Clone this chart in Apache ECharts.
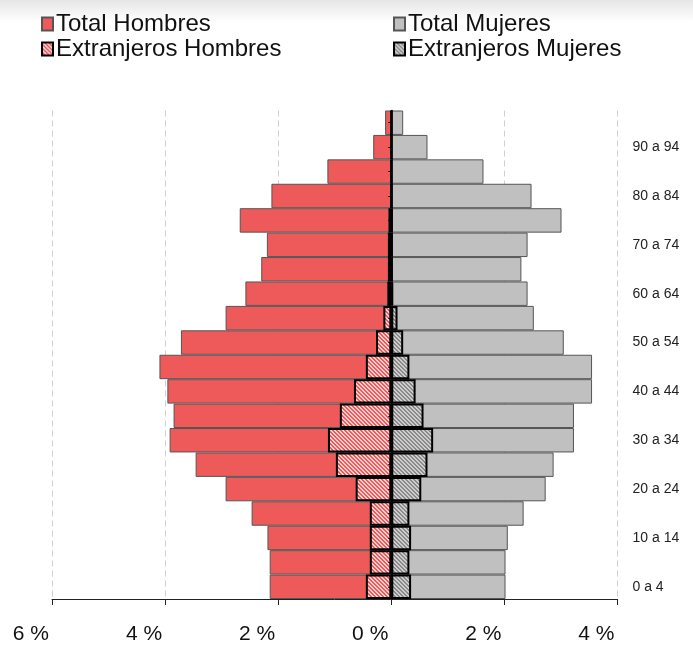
<!DOCTYPE html>
<html>
<head>
<meta charset="utf-8">
<script src="https://cdn.jsdelivr.net/npm/echarts@6/dist/echarts.min.js"></script>
<style>html,body{margin:0;padding:0;background:#fff;}#c{width:693px;height:645px;}</style>
</head>
<body>
<div id="c"></div>
<script>
const categories = ['0 a 4','5 a 9','10 a 14','15 a 19','20 a 24','25 a 29','30 a 34','35 a 39','40 a 44','45 a 49','50 a 54','55 a 59','60 a 64','65 a 69','70 a 74','75 a 79','80 a 84','85 a 89','90 a 94','95 y más'];
const totalHombres = [2.15, 2.15, 2.19, 2.47, 2.93, 3.46, 3.92, 3.85, 3.96, 4.10, 3.72, 2.93, 2.58, 2.30, 2.20, 2.68, 2.12, 1.13, 0.32, 0.11];
const totalMujeres = [2.02, 2.02, 2.06, 2.34, 2.73, 2.87, 3.23, 3.23, 3.55, 3.55, 3.05, 2.52, 2.41, 2.30, 2.41, 3.01, 2.48, 1.63, 0.64, 0.21];
const extHombres = [0.45, 0.38, 0.38, 0.38, 0.63, 0.98, 1.12, 0.91, 0.66, 0.45, 0.27, 0.14, 0.07, 0.06, 0.06, 0.05, 0.01, 0.01, 0, 0];
const extMujeres = [0.35, 0.32, 0.35, 0.32, 0.53, 0.64, 0.74, 0.57, 0.43, 0.32, 0.21, 0.11, 0.035, 0.02, 0.02, 0.02, 0.01, 0.005, 0, 0];
const xTicks = [-6, -4, -2, 0, 2, 4];

function makePattern(bg, stripe) {
  const c = document.createElement('canvas');
  c.width = 4; c.height = 4;
  const ctx = c.getContext('2d');
  const img = ctx.createImageData(4, 4);
  const p = (h) => [parseInt(h.slice(1,3),16), parseInt(h.slice(3,5),16), parseInt(h.slice(5,7),16)];
  const b = p(bg), s = p(stripe);
  for (let y = 0; y < 4; y++) for (let x = 0; x < 4; x++) {
    const k = ((x - y) % 4 + 4) % 4;
    const col = k < 2 ? s : b;
    const i = (y * 4 + x) * 4;
    img.data[i] = col[0]; img.data[i+1] = col[1]; img.data[i+2] = col[2]; img.data[i+3] = 255;
  }
  ctx.putImageData(img, 0, 0);
  return { image: c, repeat: 'repeat' };
}

const redPattern = makePattern('#ee5a5a', '#fbd0d0');
const grayPattern = makePattern('#8a8a8a', '#cdcdcd');

const chart = echarts.init(document.getElementById('c'), null, { renderer: 'canvas' });
const font = 'Liberation Sans, Arial, sans-serif';
chart.setOption({
  animation: false,
  backgroundColor: '#fff',
  graphic: [{
    type: 'rect', left: 0, top: 0, z: -10,
    shape: { width: 693, height: 22 },
    style: { fill: new echarts.graphic.LinearGradient(0, 0, 0, 1, [{ offset: 0, color: '#e6e6e6' }, { offset: 1, color: '#ffffff' }]) }
  }],
  legend: [{
    orient: 'vertical', left: 36, top: 7, itemGap: 1, itemWidth: 11, itemHeight: 13, icon: 'rect',
    data: ['Total Hombres', 'Extranjeros Hombres'],
    textStyle: { fontFamily: font, fontSize: 24, color: '#111', lineHeight: 22, padding: [0,0,0,-2] }
  }, {
    orient: 'vertical', left: 388, top: 7, itemGap: 1, itemWidth: 11, itemHeight: 13, icon: 'rect',
    data: ['Total Mujeres', 'Extranjeros Mujeres'],
    textStyle: { fontFamily: font, fontSize: 24, color: '#111', lineHeight: 22, padding: [0,0,0,-2] }
  }],
  grid: { left: 52, right: 75.5, top: 110.5, bottom: 46 },
  xAxis: {
    type: 'value', min: -6, max: 4, interval: 2,
    axisLine: { show: true, onZero: false, lineStyle: { color: '#222', width: 1 } },
    axisTick: { show: true, length: 6, lineStyle: { color: '#222' } },
    splitLine: { show: true, lineStyle: { color: '#cfcfcf', type: [6, 4], width: 1 } },
    axisLabel: {
      margin: 25, fontFamily: font, fontSize: 21, color: '#111', align: 'right', padding: [0, 3, 0, 0],
      formatter: v => xTicks.includes(v) ? Math.abs(v) + ' %' : ''
    }
  },
  yAxis: [{
    type: 'category', data: categories, z: 10,
    axisLine: { show: true, onZero: true, lineStyle: { color: '#000', width: 1.5 } },
    axisTick: { show: true, alignWithLabel: true, length: 3, lineStyle: { color: '#000' } },
    axisLabel: { show: false },
    splitLine: { show: false }
  }, {
    type: 'category', data: categories, position: 'right',
    axisLine: { show: false, onZero: false },
    axisTick: { show: false },
    axisLabel: { show: true, interval: 1, margin: 15, fontFamily: font, fontSize: 14, color: '#222' },
    splitLine: { show: false }
  }],
  series: [{
    name: 'Total Hombres', type: 'bar', yAxisIndex: 0,
    data: totalHombres.map(v => -v),
    barWidth: '100%', barGap: '-100%',
    itemStyle: { color: '#ee5a5a', borderColor: '#555', borderWidth: 1 }
  }, {
    name: 'Total Mujeres', type: 'bar', yAxisIndex: 0,
    data: totalMujeres,
    barWidth: '100%', barGap: '-100%',
    itemStyle: { color: '#c0c0c0', borderColor: '#555', borderWidth: 1 }
  }, {
    name: 'Extranjeros Hombres', type: 'bar', yAxisIndex: 0,
    data: extHombres.map(v => -v),
    barWidth: '100%', barGap: '-100%',
    itemStyle: { color: redPattern, borderColor: '#000', borderWidth: 2 }
  }, {
    name: 'Extranjeros Mujeres', type: 'bar', yAxisIndex: 0,
    data: extMujeres,
    barWidth: '100%', barGap: '-100%',
    itemStyle: { color: grayPattern, borderColor: '#000', borderWidth: 2 }
  }]
});
</script>
</body>
</html>
